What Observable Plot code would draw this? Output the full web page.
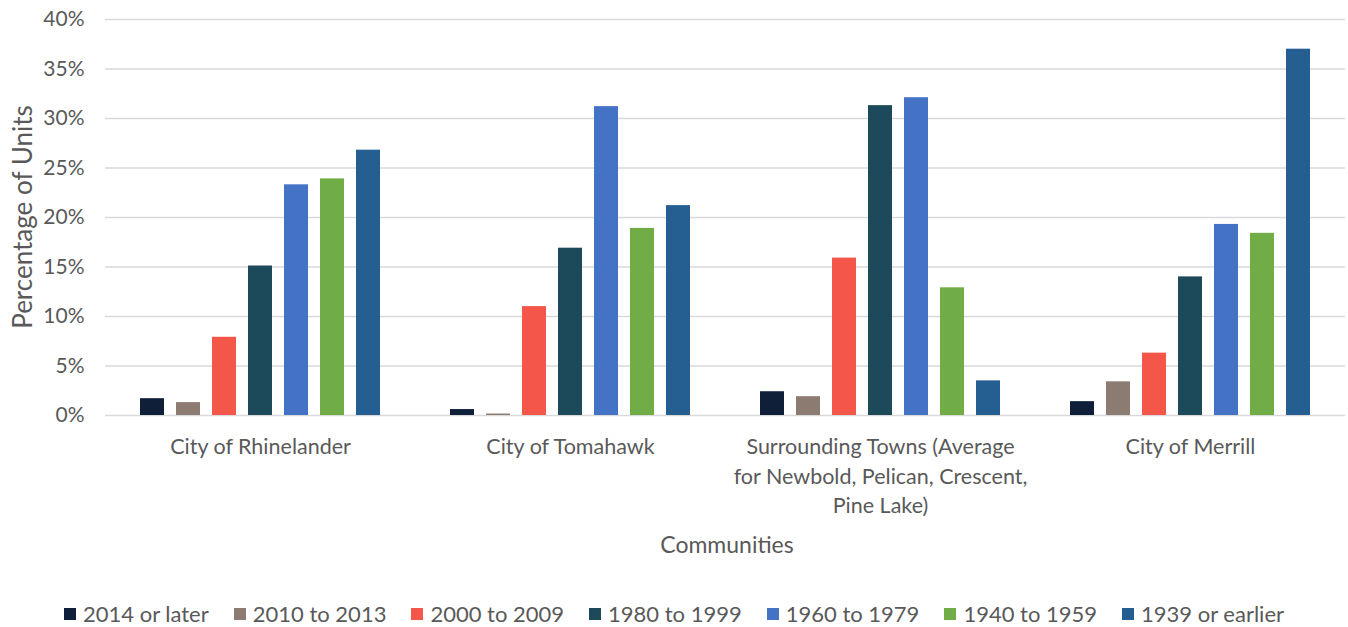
<!DOCTYPE html>
<html>
<head>
<meta charset="utf-8">
<script src="https://cdn.jsdelivr.net/npm/d3@7"></script>
<script src="https://cdn.jsdelivr.net/npm/@observablehq/plot@0.6"></script>
<style>
  html, body { margin: 0; padding: 0; background: #fff; }
  body { width: 1348px; height: 627px; overflow: hidden; position: relative; font-family: Lato, "Open Sans", sans-serif; color: #595959; }
  #chart svg { display: block; }
  #ytitle { position: absolute; left: 22px; top: 217px; transform: translate(-50%, -50%) rotate(-90deg); white-space: nowrap; font-size: 26px; line-height: 1; }
  #xtitle { position: absolute; left: 727px; top: 544px; transform: translate(-50%, -50%); white-space: nowrap; font-size: 23px; line-height: 1; }
  #legend { display: flex; justify-content: center; margin-top: 26px; font-size: 22px; line-height: 26px; }
  .item { display: flex; align-items: center; margin: 0 12.5px; }
  .sw { width: 12px; height: 12px; margin-right: 7px; }
</style>
</head>
<body>
<div id="chart"></div>
<div id="ytitle">Percentage of Units</div>
<div id="xtitle">Communities</div>
<div id="legend"></div>
<script>
const communities = [
  "City of Rhinelander",
  "City of Tomahawk",
  "Surrounding Towns (Average\nfor Newbold, Pelican, Crescent,\nPine Lake)",
  "City of Merrill"
];
const periods = ["2014 or later", "2010 to 2013", "2000 to 2009", "1980 to 1999", "1960 to 1979", "1940 to 1959", "1939 or earlier"];
const colors = ["#0f1f3a", "#8c7b70", "#f4574a", "#1c4a5a", "#4472c4", "#70ad47", "#255e91"];
const rhinelander = [1.7, 1.3, 7.9, 15.1, 23.3, 23.9, 26.8];
const tomahawk = [0.6, 0.15, 11.0, 16.9, 31.2, 18.9, 21.2];
const surrounding = [2.4, 1.9, 15.9, 31.3, 32.1, 12.9, 3.5];
const merrill = [1.4, 3.4, 6.3, 14.0, 19.3, 18.4, 37.0];
const yTicks = [0, 5, 10, 15, 20, 25, 30, 35, 40];

const series = [rhinelander, tomahawk, surrounding, merrill];
const data = [];
communities.forEach((c, i) => periods.forEach((p, j) => data.push({community: c, period: p, value: series[i][j]})));

const chart = Plot.plot({
  width: 1348,
  height: 575,
  marginTop: 19,
  marginLeft: 105,
  marginRight: 3,
  marginBottom: 160,
  style: {fontFamily: "Lato, 'Open Sans', sans-serif", color: "#595959"},
  fx: {domain: communities, padding: 0},
  x: {domain: periods, paddingInner: 0.32, paddingOuter: 0.86, axis: null},
  y: {domain: [0, 40]},
  color: {domain: periods, range: colors},
  marks: [
    Plot.gridY(yTicks, {stroke: "#d9d9d9", strokeOpacity: 1, strokeWidth: 1.5}),
    Plot.axisY(yTicks, {tickSize: 0, tickPadding: 21, tickFormat: d => d + "%", label: null, fontSize: 21, fill: "#595959"}),
    Plot.barY(data, {fx: "community", x: "period", y: "value", fill: "period"}),
    Plot.axisFx({anchor: "bottom", tickSize: 0, tickPadding: 18, lineHeight: 1.36, label: null, fontSize: 21.5, fill: "#595959"})
  ]
});
document.getElementById("chart").appendChild(chart);

const legend = document.getElementById("legend");
periods.forEach((p, i) => {
  const it = document.createElement("div");
  it.className = "item";
  const sw = document.createElement("span");
  sw.className = "sw";
  sw.style.background = colors[i];
  const t = document.createElement("span");
  t.textContent = p;
  it.appendChild(sw); it.appendChild(t);
  legend.appendChild(it);
});
</script>
</body>
</html>
